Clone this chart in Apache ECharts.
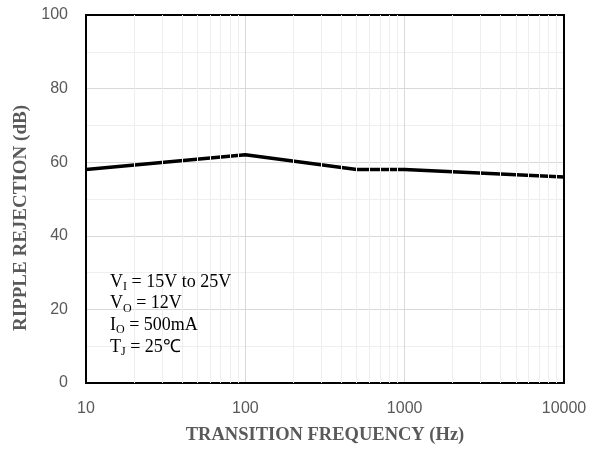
<!DOCTYPE html>
<html><head><meta charset="utf-8">
<script src="https://cdn.jsdelivr.net/npm/echarts@6/dist/echarts.min.js"></script>
<style>html,body{margin:0;padding:0;background:#fff}#c{width:598px;height:451px}</style>
</head><body><div id="c"></div>
<script>
const freqs = [10, 100, 500, 1000, 10000];
const ripple = [58, 62, 58, 58, 56];
const xTicks = [10, 100, 1000, 10000];
const yTicks = [0, 20, 40, 60, 80, 100];
const xTitle = 'TRANSITION FREQUENCY (Hz)';
const yTitle = 'RIPPLE REJECTION (dB)';
const notes = [
  ['V', 'I', ' = 15V to 25V'],
  ['V', 'O', ' = 12V'],
  ['I', 'O', ' = 500mA'],
  ['T', 'J', ' = 25℃']
];

const minorX = [];
for (let d = 10; d < 10000; d *= 10) for (let m = 2; m <= 9; m++) minorX.push(d * m);

const chart = echarts.init(document.getElementById('c'));
const serif = '"Liberation Serif", "Times New Roman", serif';
const sans = '"Liberation Sans", Arial, sans-serif';

chart.setOption({
  animation: false,
  grid: { left: 86, right: 34, top: 15, bottom: 68, show: true, borderColor: '#000', borderWidth: 2, backgroundColor: 'transparent', z: 5 },
  xAxis: {
    type: 'log', logBase: 10, min: xTicks[0], max: xTicks[xTicks.length - 1],
    name: xTitle, nameLocation: 'middle', nameGap: 43,
    nameTextStyle: { fontFamily: serif, fontWeight: 'bold', fontSize: 18.5, color: '#595959' },
    axisLine: { show: false }, axisTick: { show: false },
    axisLabel: { color: '#595959', fontFamily: sans, fontSize: 16, margin: 18, formatter: v => String(v) },
    splitLine: { show: true, lineStyle: { color: '#d9d9d9', width: 1 } }
  },
  yAxis: {
    type: 'value', min: yTicks[0], max: yTicks[yTicks.length - 1], interval: 20,
    axisLine: { show: false }, axisTick: { show: false },
    axisLabel: { color: '#595959', fontFamily: sans, fontSize: 16, margin: 18 },
    splitLine: { show: true, lineStyle: { color: '#d9d9d9', width: 1 } },
    minorTick: { show: false, splitNumber: 2 },
    minorSplitLine: { show: true, lineStyle: { color: '#eeeeee', width: 1 } }
  },
  series: [
    {
      type: 'line', data: [], z: 1, silent: true,
      markLine: {
        silent: true, symbol: 'none', label: { show: false },
        lineStyle: { color: '#eeeeee', width: 1, type: 'solid' },
        data: minorX.map(v => ({ xAxis: v }))
      }
    },
    {
      type: 'line', z: 3,
      data: freqs.map((f, i) => [f, ripple[i]]),
      showSymbol: false, symbol: 'none',
      lineStyle: { color: '#000', width: 3.5 }
    }
  ],
  graphic: [
    {
      type: 'text', x: 21, y: 218, rotation: Math.PI / 2, z: 10,
      style: {
        text: yTitle, fontFamily: serif, fontWeight: 'bold', fontSize: 19, fill: '#595959',
        textAlign: 'center', textVerticalAlign: 'middle'
      }
    },
    {
      type: 'text', left: 110, top: 273, z: 10,
      style: {
        text: notes.map(n => '{n|' + n[0] + '}{s|' + n[1] + '}{n|' + n[2] + '}').join('\n'),
        rich: {
          n: { fontFamily: serif, fontSize: 18, color: '#000', lineHeight: 21.6 },
          s: { fontFamily: serif, fontSize: 12, color: '#000', lineHeight: 14, verticalAlign: 'bottom' }
        }
      }
    }
  ]
});
</script></body></html>
